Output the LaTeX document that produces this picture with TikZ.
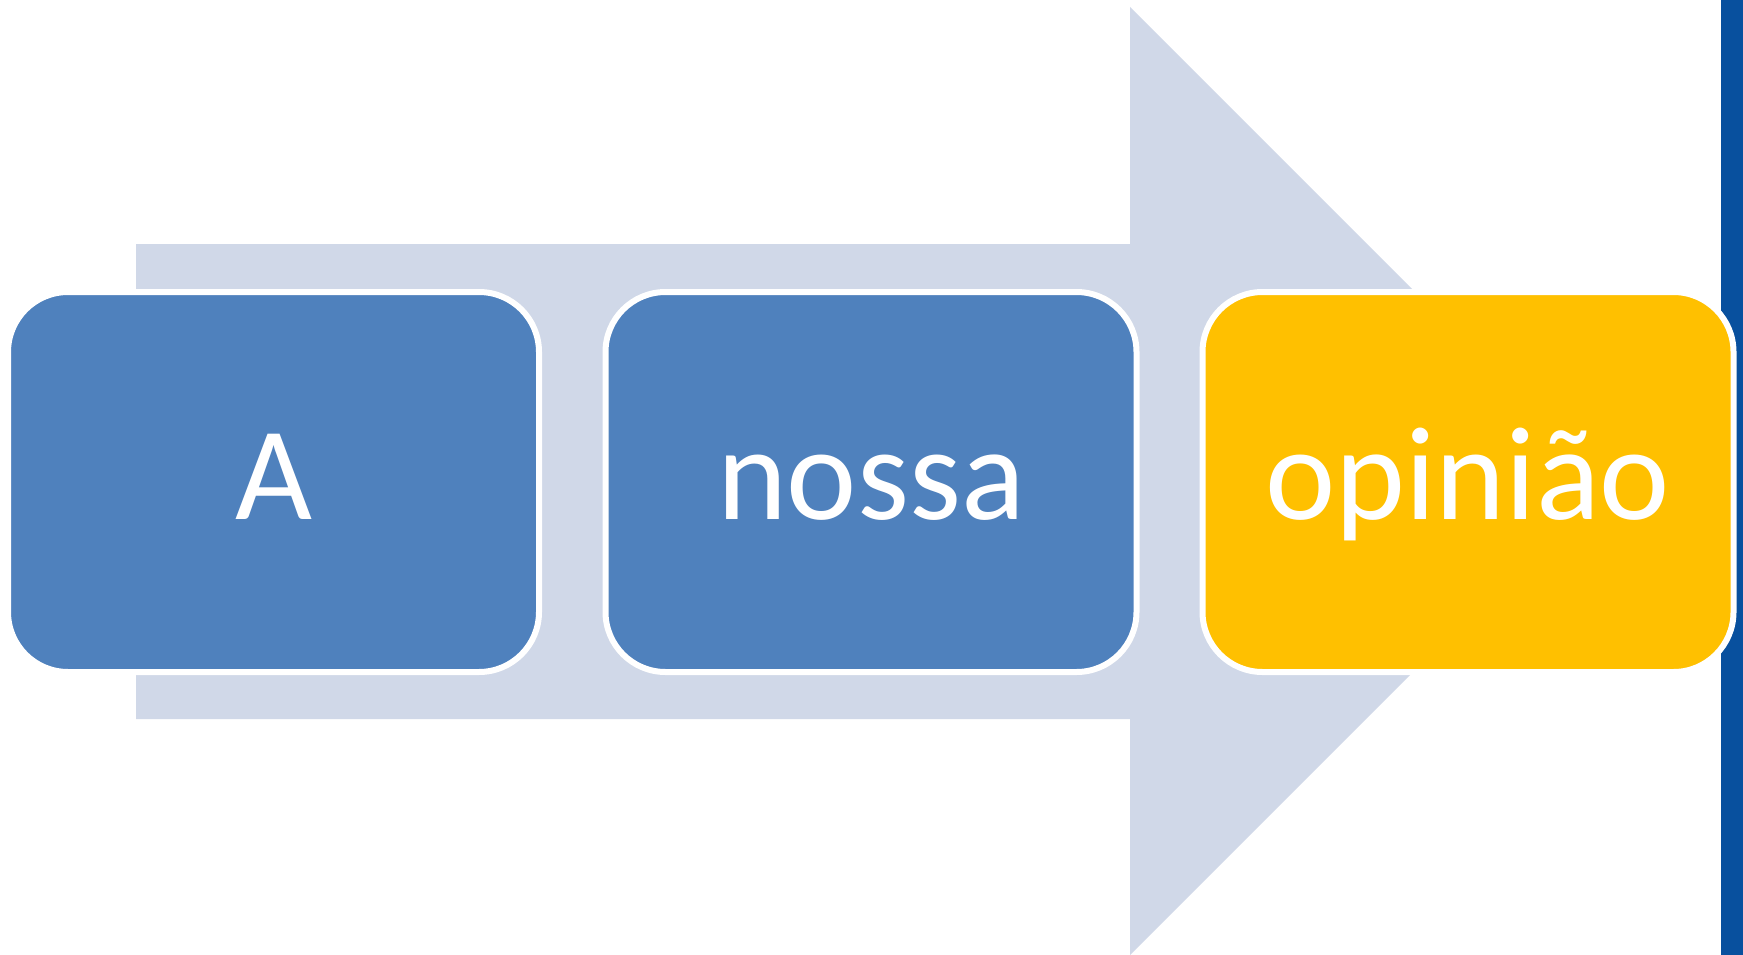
\documentclass[tikz,border=0pt]{standalone}
\usepackage{fontspec}
\setmainfont{Carlito}
\definecolor{arrowfill}{HTML}{D0D8E8}
\definecolor{boxblue}{HTML}{4F81BD}
\definecolor{boxgold}{HTML}{FFC000}
\definecolor{barblue}{HTML}{08509E}
\tikzset{
  stagebox/.style={draw=white, line width=6pt, rounded corners=60pt,
    minimum width=531pt, minimum height=380pt, inner sep=0pt,
    text=white, font=\fontsize{133}{140}\selectfont,
    text height=90pt, text depth=16pt, align=center},
}
\begin{document}
\begin{tikzpicture}[x=1pt,y=-1pt]
\useasboundingbox (0,0) rectangle (1743,955);
\fill[white] (0,0) rectangle (1743,955);
% big background arrow
\fill[arrowfill] (136,244) -- (1130,244) -- (1130,7) -- (1604,481) -- (1130,955)
  -- (1130,719) -- (136,719) -- cycle;
% dark bar at right edge
\fill[barblue] (1721,0) rectangle (1743,955);
% stage boxes
\node[stagebox, fill=boxblue] (a) at (273.5,482) {A};
\node[stagebox, fill=boxblue] (b) at (871,482) {nossa};
\node[stagebox, fill=boxgold] (c) at (1468,482) {opinião};
\end{tikzpicture}
\end{document}
